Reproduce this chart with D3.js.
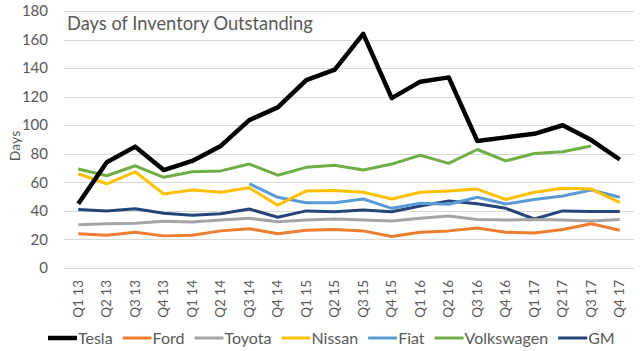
<!DOCTYPE html>
<html>
  <head>
    <meta charset="utf-8" />
    <script src="https://d3js.org/d3.v7.min.js"></script>
    <style>
      body {
        margin: 0;
        background: #fff;
      }
      text {
        font-family: Lato, "Open Sans", sans-serif;
        fill: #595959;
      }
      .grid line {
        stroke: #d9d9d9;
        stroke-width: 1px;
      }
      .series {
        fill: none;
        stroke-linejoin: round;
      }
    </style>
  </head>
  <body>
    <svg id="chart" width="640" height="351"></svg>
    <script>
      // quarters on the x axis
      const quarters = [
        "Q1 13", "Q2 13", "Q3 13", "Q4 13",
        "Q1 14", "Q2 14", "Q3 14", "Q4 14",
        "Q1 15", "Q2 15", "Q3 15", "Q4 15",
        "Q1 16", "Q2 16", "Q3 16", "Q4 16",
        "Q1 17", "Q2 17", "Q3 17", "Q4 17"
      ];

      // days of inventory (null = no value)
      const tesla = [45, 74, 85, 68.6, 75, 85.5, 103.6, 112.5, 131.6, 139, 164, 119, 130.5, 133.5, 89, 91.5, 94, 100, 89.6, 76];
      const ford = [24, 23, 25, 22.5, 23, 26, 27.5, 24, 26.5, 27, 26, 22, 25, 26, 28, 25, 24.5, 27, 31, 26.5];
      const toyota = [30.3, 31, 31.3, 32.7, 32.2, 33.6, 34.8, 32.4, 33.6, 34.3, 33.6, 33, 34.8, 36.4, 34, 33.6, 34, 33.6, 33, 34];
      const nissan = [66, 59, 67.4, 51.8, 54.6, 53, 56.2, 44, 54, 54.2, 53, 48.3, 53, 54, 55.3, 48, 53, 55.8, 55.3, 46];
      const fiat = [null, null, null, null, null, null, 59, 49.5, 45.7, 45.7, 48.3, 41.8, 45.3, 44.6, 49.5, 44.8, 48, 50.4, 54.6, 49.5];
      const volkswagen = [69.3, 64.6, 71.6, 63.5, 67.4, 68, 72.8, 65, 70.5, 72, 68.6, 72.8, 79, 73.3, 83, 75, 80.2, 81.4, 85.4, null];
      const gm = [41, 40, 41.5, 38.3, 37, 38, 41.3, 35.5, 40, 39.4, 40.6, 39.4, 43.4, 47, 45, 41.8, 34.3, 40, 39.6, 39.6];

      const yTicks = [0, 20, 40, 60, 80, 100, 120, 140, 160, 180];

      const series = [
        { name: "Tesla", values: tesla, color: "#000000", width: 4.5 },
        { name: "Ford", values: ford, color: "#ED7D31", width: 3 },
        { name: "Toyota", values: toyota, color: "#A5A5A5", width: 3 },
        { name: "Nissan", values: nissan, color: "#FFC000", width: 3 },
        { name: "Fiat", values: fiat, color: "#5B9BD5", width: 3 },
        { name: "Volkswagen", values: volkswagen, color: "#70AD47", width: 3 },
        { name: "GM", values: gm, color: "#264478", width: 3 }
      ];

      const svg = d3.select("#chart");
      const margin = { top: 11, right: 6, bottom: 83, left: 64 };
      const width = 640 - margin.left - margin.right;
      const height = 351 - margin.top - margin.bottom;

      const g = svg
        .append("g")
        .attr("transform", "translate(" + margin.left + "," + margin.top + ")");

      const x = d3.scaleBand().domain(quarters).range([0, width]);
      const y = d3.scaleLinear().domain([0, 180]).range([height, 0]);

      // gridlines
      g.append("g")
        .attr("class", "grid")
        .selectAll("line")
        .data(yTicks)
        .join("line")
        .attr("x1", 0)
        .attr("x2", width)
        .attr("y1", (d) => Math.round(y(d)) + 0.5)
        .attr("y2", (d) => Math.round(y(d)) + 0.5);

      // y tick labels
      g.selectAll("text.ytick")
        .data(yTicks)
        .join("text")
        .attr("class", "ytick")
        .attr("x", -16)
        .attr("y", (d) => y(d))
        .attr("dy", "0.35em")
        .attr("text-anchor", "end")
        .style("font-size", "15px")
        .text((d) => d);

      // x tick labels, rotated
      g.selectAll("text.xtick")
        .data(quarters)
        .join("text")
        .attr("class", "xtick")
        .attr(
          "transform",
          (d) =>
            "translate(" + (x(d) + x.bandwidth() / 2) + "," + (height + 12) + ") rotate(-90)"
        )
        .attr("dy", "0.35em")
        .attr("text-anchor", "end")
        .style("font-size", "13.5px")
        .text((d) => d);

      // axis title
      svg
        .append("text")
        .attr("transform", "translate(15," + (margin.top + 135) + ") rotate(-90)")
        .attr("dy", "0.35em")
        .attr("text-anchor", "middle")
        .style("font-size", "14px")
        .text("Days");

      // chart title
      g.append("text")
        .attr("x", 3)
        .attr("y", 19)
        .style("font-size", "18.3px")
        .text("Days of Inventory Outstanding");

      const line = d3
        .line()
        .defined((d) => d != null)
        .x((d, i) => x(quarters[i]) + x.bandwidth() / 2)
        .y((d) => y(d));

      // draw back to front so Tesla sits on top
      g.selectAll("path.series")
        .data(series.slice().reverse())
        .join("path")
        .attr("class", "series")
        .attr("stroke", (d) => d.color)
        .attr("stroke-width", (d) => d.width)
        .attr("d", (d) => line(d.values));

      // legend
      const legend = svg.append("g").attr("transform", "translate(0,338)");
      let lx = 48;
      series.forEach((s) => {
        legend
          .append("line")
          .attr("x1", lx)
          .attr("x2", lx + 29)
          .attr("stroke", s.color)
          .attr("stroke-width", s.width);
        const t = legend
          .append("text")
          .attr("x", lx + 30)
          .attr("dy", "0.35em")
          .style("font-size", "16px")
          .text(s.name);
        lx += 30 + t.node().getComputedTextLength() + 10;
      });
    </script>
  </body>
</html>
